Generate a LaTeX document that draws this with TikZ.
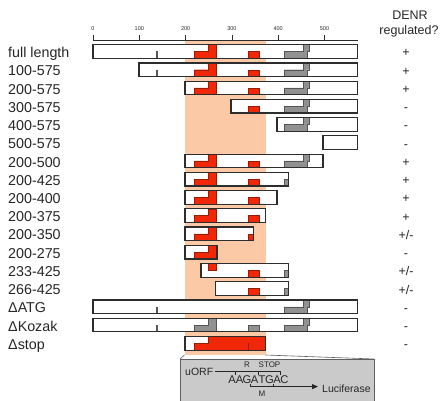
\documentclass[tikz,border=0pt]{standalone}
\usepackage{fontspec}
\setmainfont{Liberation Sans}
\usetikzlibrary{arrows.meta}
\definecolor{peach}{RGB}{251,201,165}
\definecolor{orfred}{RGB}{240,40,8}
\definecolor{orfredline}{RGB}{150,28,8}
\definecolor{fgray}{RGB}{145,145,145}
\definecolor{fgrayline}{RGB}{85,85,85}
\definecolor{ink}{RGB}{38,38,38}
\definecolor{barline}{RGB}{45,45,45}
\definecolor{boxgray}{RGB}{202,202,202}
\definecolor{boxline}{RGB}{95,95,95}

% features of one construct, drawn at row centre \cy
\newcommand{\fTick}{\fill[fgrayline] (156,\cy) rectangle (158,\cy+6.8);}
\newcommand{\fRedL}{\draw[redpart] (194,\cy+6.8) -- (194,\cy) -- (208,\cy) -- (208,\cy-6.8) -- (216,\cy-6.8) -- (216,\cy+6.8) -- cycle;}
\newcommand{\fRedU}{\draw[redpart] (208,\cy-6.8) rectangle (216,\cy);}
\newcommand{\fRedB}{\draw[redpart] (248,\cy) rectangle (259,\cy+6.8);}
\newcommand{\fGrayL}{\draw[graypart] (284,\cy+6.8) -- (284,\cy) -- (303,\cy) -- (303,\cy-6.8) -- (309,\cy-6.8) -- (309,\cy) -- (307,\cy) -- (307,\cy+6.8) -- cycle;}
\newcommand{\fGrayK}{\draw[graypart] (194,\cy+6.8) -- (194,\cy) -- (208,\cy) -- (208,\cy-6.8) -- (216,\cy-6.8) -- (216,\cy+6.8) -- cycle;
  \draw[graypart] (248,\cy) rectangle (259,\cy+6.8);}
\newcommand{\fStop}{\draw[redpart] (194,\cy+6.8) -- (194,\cy) -- (208,\cy) -- (208,\cy-6.8) -- (267,\cy-6.8) -- (267,\cy+6.8) -- cycle;
  \draw[orfredline,line width=0.7pt] (248,\cy) -- (248,\cy+6.8);}

% #1 row, #2 name, #3 label, #4 left, #5 right, #6 features, #7 sign
\newcommand{\construct}[7]{%
  \pgfmathsetmacro{\cy}{51.5+18.24*#1}%
  \begin{scope}
    \clip (#4,\cy-6.8) rectangle (#5,\cy+6.8);
    \fill[white] (#4,\cy-6.8) rectangle (#5,\cy+6.8);
    #6
  \end{scope}
  \draw[barframe] (#4,\cy-6.8) rectangle (#5,\cy+6.8);
  \node[rowlabel] (lab#2) at (8,\cy+6.1) {#3};
  \node[signtext] (sig#2) at (406,\cy+5.4) {#7};
}

\begin{document}
\begin{tikzpicture}[x=1pt,y=-1pt,
  barframe/.style={draw=barline,line width=1.2pt},
  redpart/.style={fill=orfred,draw=orfredline,line width=0.4pt},
  graypart/.style={fill=fgray,draw=fgrayline,line width=0.4pt},
  rowlabel/.style={anchor=base west,inner sep=0pt,text=ink,font=\fontsize{14.3}{16}\selectfont},
  signtext/.style={anchor=base,inner sep=0pt,text=ink,font=\fontsize{12.5}{14}\selectfont},
  headtext/.style={anchor=base,inner sep=0pt,text=ink,font=\fontsize{12.5}{14}\selectfont},
  axlab/.style={anchor=base,inner sep=0pt,text=ink,font=\fontsize{5.5}{6}\selectfont},
  axisline/.style={draw=barline,line width=0.8pt},
  boxtext/.style={inner sep=0pt,text=ink,font=\fontsize{10.5}{12}\selectfont},
  smalltext/.style={anchor=base,inner sep=0pt,text=ink,font=\fontsize{8}{9}\selectfont},
  seqtext/.style={anchor=base,inner sep=0pt,text=ink,font=\fontsize{11.2}{12}\selectfont},
  seqline/.style={draw=ink,line width=0.8pt},
  callout/.style={draw=boxline,line width=0.6pt}]
\useasboundingbox (0,0) rectangle (440,401);

% shaded region of interest
\fill[peach] (184.5,41) rectangle (265.5,355);

% ruler
\draw[axisline] (93,40) -- (357.5,40);
\foreach \v in {0,100,...,500} {
  \draw[axisline] ({93+0.463*\v},40) -- ({93+0.463*\v},35.5);
  \node[axlab] (ax\v) at ({93+0.463*\v},31) {\v};
}

% header
\node[headtext] (head1) at (410,20) {DENR};
\node[headtext] (head2) at (409,35) {regulated?};

% constructs
\construct{0}{full}{full length}{93}{357.5}{\fTick\fRedL\fRedB\fGrayL}{+}
\construct{1}{a}{100-575}{139}{357.5}{\fTick\fRedL\fRedB\fGrayL}{+}
\construct{2}{b}{200-575}{185}{357.5}{\fRedL\fRedB\fGrayL}{+}
\construct{3}{c}{300-575}{231}{357.5}{\fRedB\fGrayL}{-}
\construct{4}{d}{400-575}{277}{357.5}{\fGrayL}{-}
\construct{5}{e}{500-575}{323}{357.5}{}{-}
\construct{6}{f}{200-500}{185}{323}{\fRedL\fRedB\fGrayL}{+}
\construct{7}{g}{200-425}{185}{288.5}{\fRedL\fRedB\fGrayL}{+}
\construct{8}{h}{200-400}{185}{277}{\fRedL\fRedB\fGrayL}{+}
\construct{9}{i}{200-375}{185}{265.5}{\fRedL\fRedB}{+}
\construct{10}{j}{200-350}{185}{253.5}{\fRedL\fRedB}{+/-}
\construct{11}{k}{200-275}{185}{217}{\fRedL}{-}
\construct{12}{l}{233-425}{201}{288.5}{\fRedU\fRedB\fGrayL}{+/-}
\construct{13}{m}{266-425}{215.5}{288.5}{\fRedB\fGrayL}{+/-}
\construct{14}{n}{ΔATG}{93}{357.5}{\fTick\fGrayL}{-}
\construct{15}{o}{ΔKozak}{93}{357.5}{\fTick\fGrayK\fGrayL}{-}
\construct{16}{p}{Δstop}{185}{265.5}{\fStop}{-}

% callout box
\draw[callout] (184.5,355) -- (180,359);
\draw[callout] (265.5,355) -- (374,359);
\draw[fill=boxgray,draw=boxline,line width=0.8pt] (180,359) rectangle (374,404);

\node[boxtext,anchor=base west] (uorf) at (185,375.5) {uORF};
\foreach \l [count=\k] in {A,A,G,A,T,G,A,C}
  \node[seqtext] (s\k) at ({224.5+7.5*\k},383.4) {\l};
\coordinate (uend) at (280.75,371.6);
\draw[seqline] ([xshift=2pt]uorf.east) -- (uorf.east -| uend);
\foreach \t in {235.75,258.25,280.75}
  \draw[seqline] (\t,371.6) -- (\t,374.6);
\node[smalltext] (rlab) at (247,368) {R};
\node[smalltext] (stoplab) at (269.5,368) {STOP};

\coordinate (mstart) at (250.75,383.6);
\coordinate (mcorner) at (250.75,386.6);
\coordinate (aend) at (318,386.6);
\node[boxtext,anchor=base west] (luc) at (322,392.6) {Luciferase};
\draw[seqline,-{Triangle[length=6pt,width=5pt]}] (mstart) -- (mcorner) -- (aend);
\draw[seqline] (273.25,386.6) -- (273.25,383.6);
\node[smalltext] (mlab) at (262,396) {M};
\end{tikzpicture}
\end{document}
